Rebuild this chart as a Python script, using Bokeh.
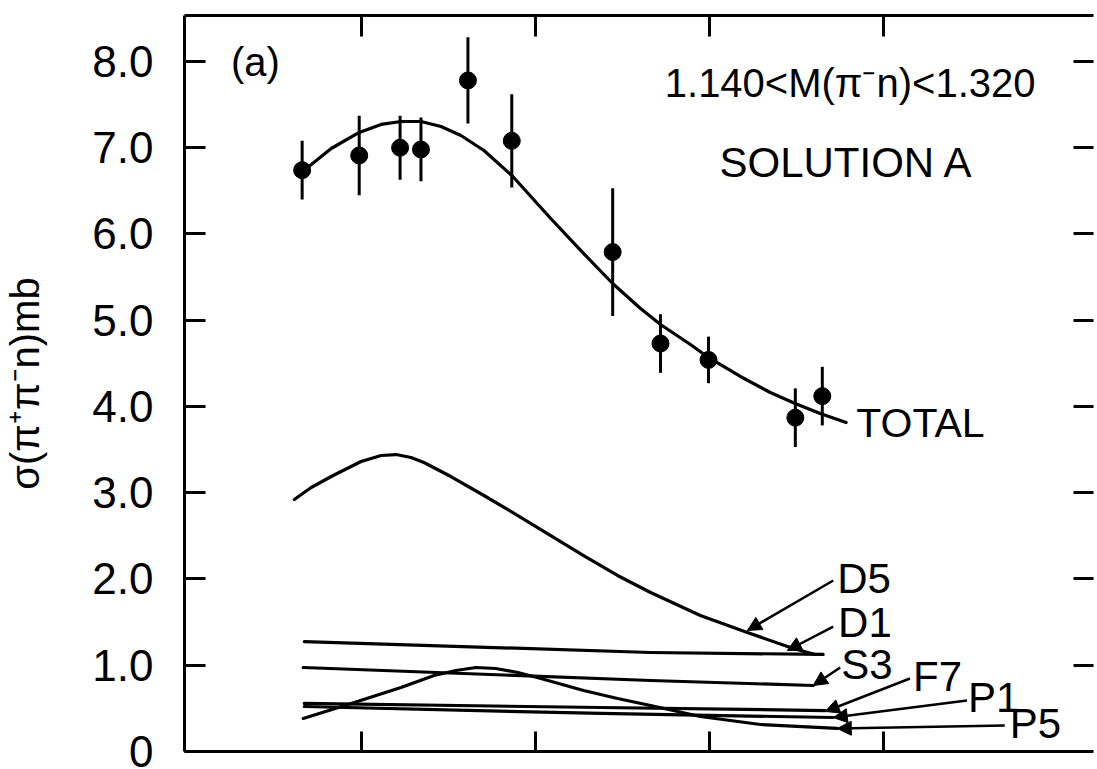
from bokeh.plotting import figure
from bokeh.models import (Range1d, FixedTicker, LinearAxis, Arrow, NormalHead, ColumnDataSource,
                          CustomLabelingPolicy)
from bokeh.core.properties import value
from bokeh.embed import file_html
from bokeh.resources import INLINE

FONT = "Liberation Sans"

# ---- measured cross sections (mb) ----
x_pts = [0.661, 0.989, 1.224, 1.344, 1.614, 1.866, 2.446, 2.721, 2.997, 3.496, 3.651]
y_pts = [6.74, 6.91, 7.00, 6.98, 7.78, 7.08, 5.79, 4.73, 4.54, 3.87, 4.12]
y_err = [0.34, 0.46, 0.37, 0.37, 0.50, 0.54, 0.74, 0.34, 0.27, 0.34, 0.34]

# ---- fitted curves ----
total_x = [0.685, 0.828, 0.989, 1.115, 1.229, 1.344, 1.459, 1.574, 1.706, 1.872, 2.090, 2.262,
           2.446, 2.606, 2.721, 2.893, 2.996, 3.180, 3.352, 3.495, 3.639, 3.788]
total_y = [6.760, 6.991, 7.177, 7.270, 7.304, 7.304, 7.246, 7.142, 6.968, 6.667, 6.180, 5.809,
           5.426, 5.136, 4.951, 4.719, 4.568, 4.348, 4.162, 4.035, 3.919, 3.814]

d5_x = [0.616, 0.713, 0.839, 1.000, 1.115, 1.201, 1.287, 1.361, 1.516, 1.706, 1.901, 2.090,
        2.279, 2.474, 2.664, 2.950, 3.220, 3.484, 3.610]
d5_y = [2.922, 3.061, 3.200, 3.362, 3.432, 3.443, 3.409, 3.351, 3.188, 2.968, 2.736, 2.504,
        2.272, 2.041, 1.843, 1.577, 1.380, 1.194, 1.125]

d1_x = [0.673, 2.664, 3.656]
d1_y = [1.275, 1.148, 1.125]

s3_x = [0.667, 2.664, 3.599]
s3_y = [0.974, 0.823, 0.765]

f7_x = [0.673, 2.377, 3.668]
f7_y = [0.557, 0.510, 0.475]

p1_x = [0.673, 2.377, 3.714]
p1_y = [0.522, 0.441, 0.394]

p5_x = [0.667, 0.943, 1.229, 1.419, 1.545, 1.660, 1.774, 1.901, 2.033, 2.279, 2.474, 2.664,
        2.950, 3.295, 3.736]
p5_y = [0.383, 0.557, 0.742, 0.881, 0.939, 0.974, 0.962, 0.916, 0.846, 0.707, 0.614, 0.533,
        0.406, 0.313, 0.267]

# ---- wave labels and arrows ----
wave_names = ["D5", "D1", "S3", "F7", "P1", "P5"]
wave_lx = [3.737, 3.742, 3.760, 4.173, 4.488, 4.729]
wave_ly = [2.006, 1.496, 1.009, 0.870, 0.626, 0.325]
arrow_x0 = [3.714, 3.714, 3.754, 4.155, 4.483, 4.700]
arrow_y0 = [1.983, 1.449, 0.974, 0.846, 0.591, 0.301]
arrow_x1 = [3.220, 3.450, 3.599, 3.668, 3.714, 3.737]
arrow_y1 = [1.403, 1.171, 0.765, 0.464, 0.394, 0.267]

y_ticks = [0, 1, 2, 3, 4, 5, 6, 7, 8]
y_tick_labels = ["0", "1.0", "2.0", "3.0", "4.0", "5.0", "6.0", "7.0", "8.0"]
x_ticks = [1, 2, 3, 4]

p = figure(width=1097, height=769,
           x_range=Range1d(-0.0153, 5.210), y_range=Range1d(0, 8.533),
           output_backend="svg", toolbar_location=None,
           min_border_left=183, min_border_right=3, min_border_top=15, min_border_bottom=18)
p.outline_line_color = None
p.xgrid.visible = False
p.ygrid.visible = False
p.background_fill_color = "white"
p.border_fill_color = "white"

no_labels = CustomLabelingPolicy(code="return []")

# left axis
ya = p.yaxis[0]
ya.ticker = FixedTicker(ticks=y_ticks)
ya.major_label_overrides = {t: s for t, s in zip(y_ticks, y_tick_labels)}
ya.major_tick_in = 21
ya.major_tick_out = 0
ya.minor_tick_line_color = None
ya.major_tick_line_width = 3
ya.axis_line_width = 3
ya.major_label_standoff = 31
ya.major_label_text_font = FONT
ya.major_label_text_font_size = "44px"
ya.major_label_text_color = "black"
ya.axis_label = "σ(π⁺π⁻n)mb"
ya.axis_label_text_font = FONT
ya.axis_label_text_font_size = "40px"
ya.axis_label_text_font_style = "normal"
ya.axis_label_text_color = "black"
ya.axis_label_standoff = 42

# bottom axis (ticks only)
xa = p.xaxis[0]
xa.ticker = FixedTicker(ticks=x_ticks)
xa.major_tick_in = 20
xa.major_tick_out = 0
xa.minor_tick_line_color = None
xa.major_tick_line_width = 3
xa.axis_line_width = 3
xa.major_label_policy = no_labels
xa.major_label_text_font_size = "1px"
xa.major_label_standoff = 0

# top axis (ticks only)
ta = LinearAxis(ticker=FixedTicker(ticks=x_ticks), major_tick_in=21, major_tick_out=0,
                minor_tick_line_color=None, major_tick_line_width=3, axis_line_width=3,
                major_label_policy=no_labels, major_label_text_font_size="1px",
                major_label_standoff=0)
p.add_layout(ta, "above")

# right axis (ticks only, edge cut off in the original)
ra = LinearAxis(ticker=FixedTicker(ticks=y_ticks[1:]), major_tick_in=20, major_tick_out=0,
                minor_tick_line_color=None, major_tick_line_width=3, axis_line_color=None,
                major_label_policy=no_labels, major_label_text_font_size="1px",
                major_label_standoff=0)
p.add_layout(ra, "right")

# curves
for cx, cy in [(total_x, total_y), (d5_x, d5_y), (d1_x, d1_y), (s3_x, s3_y),
               (f7_x, f7_y), (p1_x, p1_y), (p5_x, p5_y)]:
    p.line(cx, cy, line_width=3.2, line_color="black", line_join="round", line_cap="round")

# data points with error bars
lo = [y - e for y, e in zip(y_pts, y_err)]
hi = [y + e for y, e in zip(y_pts, y_err)]
p.segment(x0=x_pts, y0=lo, x1=x_pts, y1=hi, line_width=3, line_color="black")
p.scatter(x_pts, y_pts, size=17, marker="circle", fill_color="black", line_color="black")

# arrows
asrc = ColumnDataSource(dict(x0=arrow_x0, y0=arrow_y0, x1=arrow_x1, y1=arrow_y1))
p.add_layout(Arrow(end=NormalHead(size=14, fill_color="black", line_color="black", line_width=1),
                   x_start="x0", y_start="y0", x_end="x1", y_end="y1", source=asrc,
                   line_width=2.5, line_color="black"))

# wave labels
p.text(x=wave_lx, y=wave_ly, text=wave_names, text_font=value(FONT), text_font_size="42px",
       text_align="left", text_baseline="middle", text_color="black")

# other annotations
p.text(x=[0.392], y=[7.99], text=["(a)"], text_font=value(FONT), text_font_size="40px",
       text_align="center", text_baseline="middle", text_color="black")
p.text(x=[3.811], y=[7.745], text=["1.140<M(π⁻n)<1.320"], text_font=value(FONT), text_font_size="40px",
       text_align="center", text_baseline="middle", text_color="black")
p.text(x=[3.060], y=[6.829], text=["SOLUTION  A"], text_font=value(FONT), text_font_size="42px",
       text_align="left", text_baseline="middle", text_color="black")
p.text(x=[3.846], y=[3.814], text=["TOTAL"], text_font=value(FONT), text_font_size="41px",
       text_align="left", text_baseline="middle", text_color="black")

open("out.html", "w").write(file_html(p, INLINE))
